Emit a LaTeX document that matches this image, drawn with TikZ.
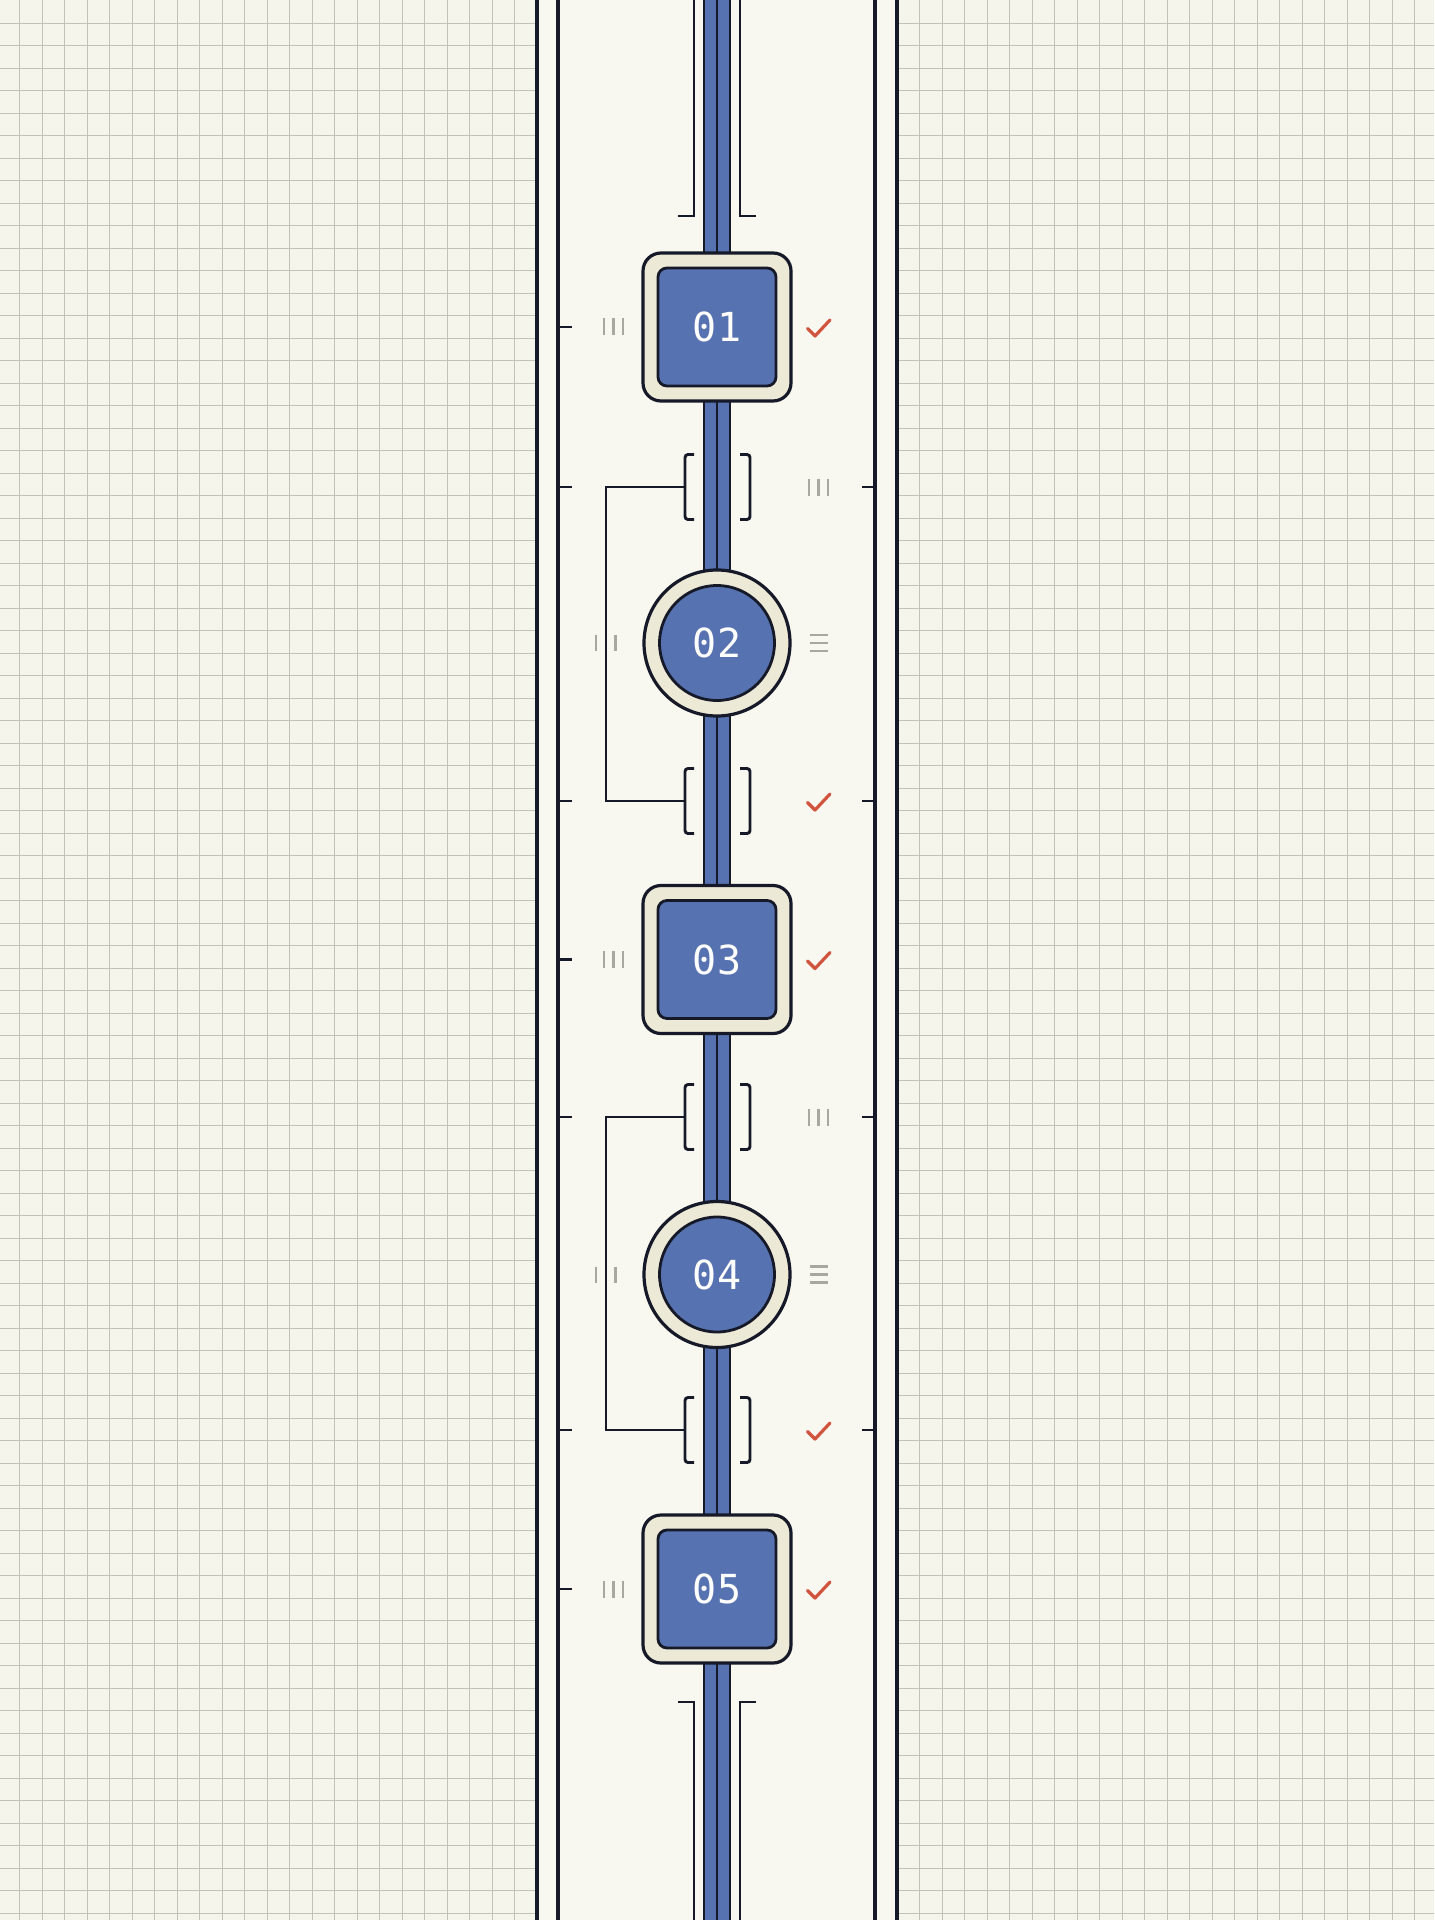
\documentclass[tikz,border=0pt]{standalone}
\usepackage{fontspec}
\newfontfamily\numfont{DejaVu Sans Mono}
\definecolor{paper}{RGB}{246,245,235}
\definecolor{panel}{RGB}{248,247,240}
\definecolor{gridc}{RGB}{194,194,184}
\definecolor{ink}{RGB}{22,26,40}
\definecolor{spinec}{RGB}{86,114,176}
\definecolor{ringc}{RGB}{237,233,215}
\definecolor{markgrey}{RGB}{168,168,158}
\definecolor{checkred}{RGB}{208,84,62}
\tikzset{
  inkline/.style={draw=ink, line width=1.6pt},
  thinink/.style={draw=ink, line width=1.45pt},
  sqouter/.style={draw=ink, line width=1.6pt, fill=ringc, rectangle, rounded corners=9pt, minimum size=74pt, inner sep=0pt},
  sqinner/.style={draw=ink, line width=1.4pt, fill=spinec, rectangle, rounded corners=4.5pt, minimum size=59pt, inner sep=0pt, text=white, font=\numfont\fontsize{20pt}{20pt}\selectfont},
  ciouter/.style={draw=ink, line width=1.6pt, fill=ringc, circle, minimum size=73pt, inner sep=0pt},
  ciinner/.style={draw=ink, line width=1.4pt, fill=spinec, circle, minimum size=57.5pt, inner sep=0pt, text=white, font=\numfont\fontsize{20pt}{20pt}\selectfont},
  greymark/.style={draw=markgrey, line width=1.3pt},
  checkmark/.style={draw=checkred, line width=1.6pt, line cap=round, line join=round},
  gridline/.style={draw=gridc, line width=0.5pt},
}
\begin{document}
\begin{tikzpicture}[x=0.5pt,y=-0.5pt]
\useasboundingbox (0,0) rectangle (1434,1920);
\fill[paper] (0,0) rectangle (1434,1920);
% grid
\foreach \i in {0,...,63} \draw[gridline] ({round(19.3+22.5*\i)+0.5},0) -- ++(0,1920);
\foreach \j in {0,...,85} \draw[gridline] (0,{round(22.6+22.5*\j)+0.5}) -- ++(1434,0);
% panel
\fill[panel] (537,0) rectangle (897,1920);
\foreach \x in {537,558,875,897} \draw[inkline] (\x,0) -- (\x,1920);
% spine
\fill[spinec] (704,0) rectangle (730,1920);
\foreach \x in {704,717,730} \draw[draw=ink, line width=1.3pt] (\x,0) -- (\x,1920);
% end brackets
\coordinate (tl) at (678,216);
\coordinate (tr) at (756,216);
\coordinate (bl) at (678,1702);
\coordinate (br) at (756,1702);
\draw[thinink] (tl) -- ++(16,0) -- (694,0);
\draw[thinink] (tr) -- ++(-16,0) -- (740,0);
\draw[thinink] (bl) -- ++(16,0) -- (694,1920);
\draw[thinink] (br) -- ++(-16,0) -- (740,1920);
% bracket pairs
\foreach \c/\n in {487/1,801/2,1117/3,1430/4}{
  \coordinate (b\n) at (685,\c);
  \draw[thinink, rounded corners=1.5pt] (694,\c-32.5) -- (685,\c-32.5) -- (685,\c+32.5) -- (694,\c+32.5);
  \draw[thinink, rounded corners=1.5pt] (740,\c-32.5) -- (750,\c-32.5) -- (750,\c+32.5) -- (740,\c+32.5);
  \draw[thinink] (558,\c) -- (572,\c);
  \draw[thinink] (862,\c) -- (875,\c);
}
% loop connectors
\draw[thinink] (b1) -- ++(-79,0) |- (b2);
\draw[thinink] (b3) -- ++(-79,0) |- (b4);
% nodes
\foreach \y/\t in {327/01,959.5/03,1589/05}{
  \node[sqouter] (o\t) at (717,\y) {};
  \node[sqinner] (n\t) at (o\t) {\t};
  \draw[thinink] (558,\y) -- (572,\y);
}
\foreach \y/\t in {643/02,1274.5/04}{
  \node[ciouter] (o\t) at (717,\y) {};
  \node[ciinner] (n\t) at (o\t) {\t};
}
% grey marks: III left of square nodes
\foreach \y in {327,959.5,1589}{
  \foreach \x in {604,613.5,623} \draw[greymark] (\x,\y-8.5) -- (\x,\y+8.5);
}
% III right of brackets 1 and 3
\foreach \y in {487,1117}{
  \foreach \x in {809,818.5,828} \draw[greymark] (\x,\y-8.5) -- (\x,\y+8.5);
}
% II and triple bar at circle nodes
\foreach \y in {643,1274.5}{
  \foreach \x in {596,615.5} \draw[greymark] (\x,\y-8) -- (\x,\y+8);
  \foreach \d in {-8,0,8} \draw[greymark] (810,\y+\d) -- (827.5,\y+\d);
}
% check marks
\foreach \y in {327,801,959.5,1430,1589}{
  \draw[checkmark] (807.5,\y+1.5) -- (815,\y+9) -- (830,\y-7);
}
\end{tikzpicture}
\end{document}
